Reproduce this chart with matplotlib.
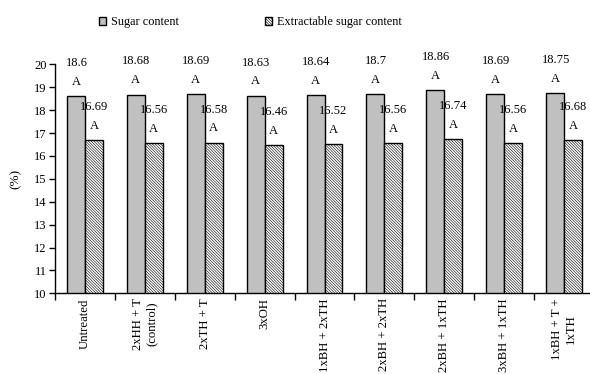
import matplotlib
matplotlib.use("Agg")
import matplotlib.pyplot as plt
import numpy as np

categories = ["Untreated", "2xHH + T\n(control)", "2xTH + T", "3xOH",
              "1xBH + 2xTH", "2xBH + 2xTH", "2xBH + 1xTH", "3xBH + 1xTH",
              "1xBH + T +\n1xTH"]
sugar = [18.6, 18.68, 18.69, 18.63, 18.64, 18.7, 18.86, 18.69, 18.75]
extractable = [16.69, 16.56, 16.58, 16.46, 16.52, 16.56, 16.74, 16.56, 16.68]
sugar_labels = ["18.6", "18.68", "18.69", "18.63", "18.64", "18.7", "18.86", "18.69", "18.75"]
extract_labels = ["16.69", "16.56", "16.58", "16.46", "16.52", "16.56", "16.74", "16.56", "16.68"]
letters_sugar = ["A"] * 9
letters_extract = ["A"] * 9

plt.rcParams['font.family'] = ['Liberation Serif', 'DejaVu Serif']
plt.rcParams['hatch.color'] = '#606060'
plt.rcParams['hatch.linewidth'] = 0.4

fig = plt.figure(figsize=(5.9, 3.74), dpi=100)
ax = fig.add_axes([55/590, 80.7/374, 539/590, 229/374])

x = np.arange(len(categories))
w = 0.3
fs = 9
fs_rot = 9.2
b1 = ax.bar(x - w/2, sugar, w, color='#c0c0c0', edgecolor='black',
            linewidth=1.0, label='Sugar content')
b2 = ax.bar(x + w/2, extractable, w, color='white', edgecolor='black',
            linewidth=1.0, hatch='\\' * 12, label='Extractable sugar content')

for xi, v, t, l in zip(x, sugar, sugar_labels, letters_sugar):
    ax.annotate(t, (xi - w/2, v), xytext=(0.5, 23.8), textcoords='offset points',
                ha='center', va='center', fontsize=fs, annotation_clip=False)
    ax.annotate(l, (xi - w/2, v), xytext=(0, 10.3), textcoords='offset points',
                ha='center', va='center', fontsize=fs, annotation_clip=False)
for xi, v, t, l in zip(x, extractable, extract_labels, letters_extract):
    ax.annotate(t, (xi + w/2, v), xytext=(0, 23.8), textcoords='offset points',
                ha='center', va='center', fontsize=fs, annotation_clip=False)
    ax.annotate(l, (xi + w/2, v), xytext=(0, 10.3), textcoords='offset points',
                ha='center', va='center', fontsize=fs, annotation_clip=False)

ax.set_ylim(10, 20)
ax.set_xlim(-0.5, len(categories) - 0.5)
ax.set_yticks(np.arange(10, 21, 1))
ax.tick_params(axis='y', labelsize=fs, length=4, width=1, direction='out', pad=2)
ax.set_xticks(x)
ax.set_xticklabels(categories, rotation=90, fontsize=fs_rot, ha='center', va='top',
                   multialignment='center')
ax.tick_params(axis='x', which='major', length=0, pad=3.5)
ax.set_xticks(np.arange(-0.5, len(categories), 1), minor=True)
ax.tick_params(axis='x', which='minor', length=5, width=1, direction='out')
for s in ['top', 'right']:
    ax.spines[s].set_visible(False)
ax.spines['left'].set_linewidth(1)
ax.spines['bottom'].set_linewidth(1)
ax.set_ylabel('(%)', fontsize=9.5, labelpad=9)

fig.legend(handles=[b1, b2], loc='center left', bbox_to_anchor=(99/590, 1 - 22/374),
           ncol=2, frameon=False, fontsize=8.8, handlelength=0.6, handleheight=0.6,
           handletextpad=0.4, columnspacing=7.0, borderaxespad=0, borderpad=0)

fig.savefig('out.png', dpi=100)
